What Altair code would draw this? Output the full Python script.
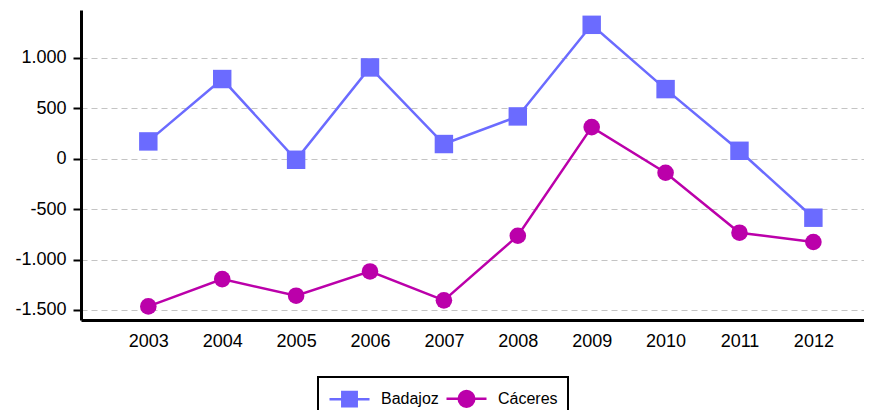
import altair as alt
import pandas as pd

years = [2003, 2004, 2005, 2006, 2007, 2008, 2009, 2010, 2011, 2012]
badajoz = [172, 791, -10, 906, 146, 420, 1329, 691, 79, -585]
caceres = [-1465, -1194, -1359, -1118, -1405, -764, 314, -139, -734, -826]
series = ["Badajoz", "Cáceres"]
colors = ["#6b6bff", "#bb00aa"]
y_ticks = [-1500, -1000, -500, 0, 500, 1000]

rows = []
for i, yr in enumerate(years):
    rows.append({"year": yr, "value": badajoz[i], "series": series[0]})
    rows.append({"year": yr, "value": caceres[i], "series": series[1]})
df = pd.DataFrame(rows)

FONT = "Liberation Sans"

x_enc = alt.X(
    "year:Q",
    scale=alt.Scale(domain=[2002.089, 2012.685], nice=False, zero=False),
    axis=alt.Axis(
        values=years, format="d", title=None, grid=False, ticks=False,
        domainColor="black", domainWidth=3, labelFontSize=18, labelFont=FONT,
        labelColor="black", labelPadding=12,
    ),
)
y_enc = alt.Y(
    "value:Q",
    scale=alt.Scale(domain=[-1600, 1476], nice=False, zero=False),
    axis=alt.Axis(
        values=y_ticks, format=",d", title=None, grid=True,
        gridColor="#c4c4c4", gridDash=[6, 4], gridWidth=1.2,
        domainColor="black", domainWidth=3, tickColor="black", tickSize=8,
        tickWidth=2, labelFontSize=18, labelFont=FONT, labelColor="black",
        labelPadding=7,
    ),
)

color_scale = alt.Scale(domain=series, range=colors)
color_enc = alt.Color("series:N", scale=color_scale, title=None)

base = alt.Chart(df)

# legend symbols: unit = 10 px (symbolSize 400): line with square / circle
sq_path = "M-2,0H2M-0.72,-0.72H0.72V0.72H-0.72Z"
ci_path = "M-2,0H2M-0.78,0A0.78,0.78 0 1,0 0.78,0A0.78,0.78 0 1,0 -0.78,0Z"

legend_layer = base.transform_filter("false").mark_point(filled=True, strokeWidth=2.5, opacity=1).encode(
    x=x_enc, y=y_enc,
    shape=alt.Shape("series:N", scale=alt.Scale(domain=series, range=[sq_path, ci_path]), title=None),
    fill=alt.Fill("series:N", scale=alt.Scale(domain=series, range=colors), title=None),
    stroke=alt.Stroke("series:N", scale=alt.Scale(domain=series, range=colors), title=None),
)

lines = base.mark_line(strokeWidth=2.5).encode(
    x=x_enc, y=y_enc, color=color_enc, detail="series:N",
)

squares = base.transform_filter(alt.datum.series == series[0]).mark_point(
    filled=True, opacity=1, shape="square", size=340
).encode(x=x_enc, y=y_enc, color=color_enc)

circles = base.transform_filter(alt.datum.series == series[1]).mark_point(
    filled=True, opacity=1, shape="circle", size=275
).encode(x=x_enc, y=y_enc, color=color_enc)

chart = (
    alt.layer(legend_layer, lines, squares, circles)
    .properties(
        width=783, height=310,
        autosize=alt.AutoSizeParams(type="none"),
        padding={"left": 73, "top": 2, "right": 0, "bottom": 92},
    )
    .configure(locale={"number": {"decimal": ",", "thousands": ".", "grouping": [3],
                                  "currency": ["", " €"], "minus": "-"}})
    .configure_view(stroke=None)
    .configure_legend(
        orient="none", legendX=237, legendY=367, direction="horizontal",
        strokeColor="black", strokeWidth=2, padding=10, fillColor="white",
        symbolSize=400, symbolStrokeWidth=2.5, symbolOffset=10,
        labelFontSize=16, labelFont=FONT,
        labelColor="black", labelOffset=20, columnPadding=2, symbolOpacity=1,
    )
)

chart.save("out.html", embed_options={"renderer": "svg", "actions": False})
